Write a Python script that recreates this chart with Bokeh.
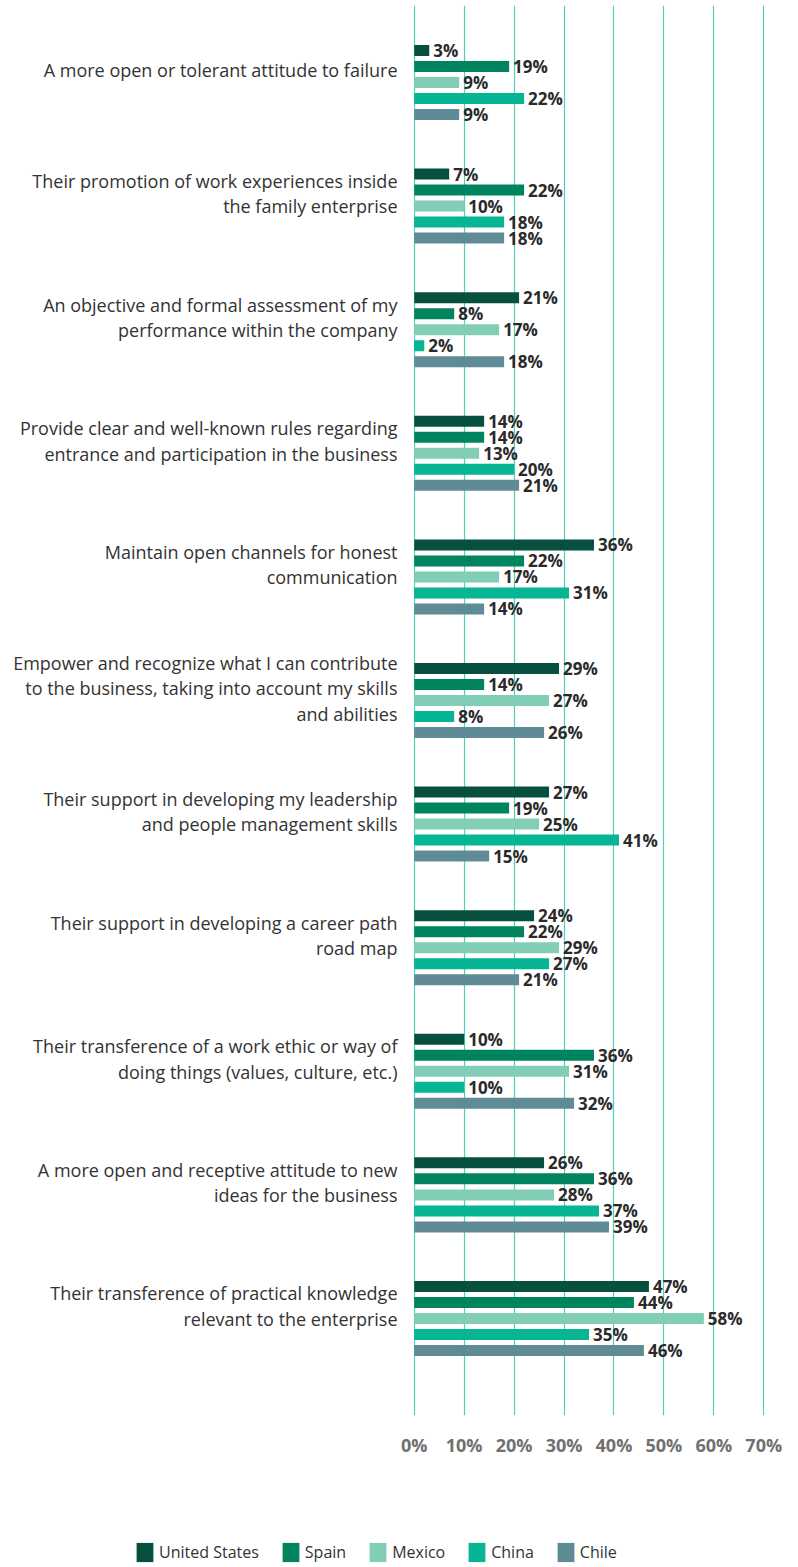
from bokeh.plotting import figure
from bokeh.models import (ColumnDataSource, Range1d, FixedTicker, PrintfTickFormatter,
                          Legend, LegendItem)
from bokeh.layouts import column
from bokeh.transform import dodge
from bokeh.core.properties import value
from bokeh.embed import file_html
from bokeh.resources import INLINE

categories = [
    "A more open or tolerant attitude to failure",
    "Their promotion of work experiences inside\nthe family enterprise",
    "An objective and formal assessment of my\nperformance within the company",
    "Provide clear and well-known rules regarding\nentrance and participation in the business",
    "Maintain open channels for honest\ncommunication",
    "Empower and recognize what I can contribute\nto the business, taking into account my skills\nand abilities",
    "Their support in developing my leadership\nand people management skills",
    "Their support in developing a career path\nroad map",
    "Their transference of a work ethic or way of\ndoing things (values, culture, etc.)",
    "A more open and receptive attitude to new\nideas for the business",
    "Their transference of practical knowledge\nrelevant to the enterprise",
]
series = ["United States", "Spain", "Mexico", "China", "Chile"]
united_states = [3, 7, 21, 14, 36, 29, 27, 24, 10, 26, 47]
spain = [19, 22, 8, 14, 22, 14, 19, 22, 36, 36, 44]
mexico = [9, 10, 17, 13, 17, 27, 25, 29, 31, 28, 58]
china = [22, 18, 2, 20, 31, 8, 41, 27, 10, 37, 35]
chile = [9, 18, 18, 21, 14, 26, 15, 21, 32, 39, 46]
x_ticks = [0, 10, 20, 30, 40, 50, 60, 70]

colors = ["#07503F", "#00845F", "#82CDB6", "#05B593", "#5E8B96"]
values_by_series = [united_states, spain, mexico, china, chile]

W = 782
H_MAIN = 1500
H_LEG = 64
p = figure(width=W, height=H_MAIN, output_backend="svg", toolbar_location=None,
           x_range=Range1d(-0.15, 70.15), y_range=Range1d(10.785, -0.623),
           min_border_left=413, min_border_right=18, min_border_top=5,
           min_border_bottom=H_MAIN - 1415)
p.outline_line_color = None
p.background_fill_color = "white"

# legend strip (own figure, so the legend can sit under the labels)
pl = figure(width=W, height=H_LEG, output_backend="svg", toolbar_location=None,
            x_range=Range1d(1000, 1001), y_range=Range1d(1000, 1001),
            min_border_left=0, min_border_right=0, min_border_top=0,
            min_border_bottom=0)
pl.frame_align = False
pl.axis.visible = False
pl.grid.grid_line_color = None
pl.outline_line_color = None

idx = list(range(len(categories)))
pitch = 0.1295
bar_h = 0.089
items = []
for k, (name, vals, col) in enumerate(zip(series, values_by_series, colors)):
    src = ColumnDataSource(dict(idx=idx, v=vals, lab=[f"{v}%" for v in vals]))
    off = (k - 2) * pitch
    p.hbar(y=dodge("idx", off), right="v", left=0, height=bar_h,
           fill_color=col, line_color=None, source=src)
    p.text(x="v", y=dodge("idx", off), text="lab", source=src,
           x_offset=4, text_baseline="middle", text_align="left",
           text_font=value("Open Sans"), text_font_style="bold",
           text_font_size="17px", text_color="#2a2a2a")
    # legend swatch renderer: same data, zero width and outside the strip's range
    rl = pl.hbar(y="idx", left="v", right="v", height=bar_h,
                 fill_color=col, line_color=None, source=src)
    items.append(LegendItem(label=name, renderers=[rl]))

# category labels sit slightly above each group's centre
label_pos = [i - 0.1 for i in idx]
p.yaxis.ticker = FixedTicker(ticks=label_pos)
p.yaxis.major_label_overrides = {y: c for y, c in zip(label_pos, categories)}
p.yaxis.axis_line_color = None
p.yaxis.major_tick_line_color = None
p.yaxis.minor_tick_line_color = None
p.yaxis.major_tick_out = 0
p.yaxis.major_tick_in = 0
p.yaxis.major_label_standoff = 16
p.yaxis.major_label_text_font = "Open Sans"
p.yaxis.major_label_text_font_size = "18px"
p.yaxis.major_label_text_color = "#333333"
p.yaxis.major_label_text_line_height = 1.06

p.xaxis.ticker = FixedTicker(ticks=x_ticks)
p.xaxis.formatter = PrintfTickFormatter(format="%d%%")
p.xaxis.axis_line_color = None
p.xaxis.major_tick_line_color = None
p.xaxis.minor_tick_line_color = None
p.xaxis.major_tick_out = 0
p.xaxis.major_tick_in = 0
p.xaxis.major_label_standoff = 17
p.xaxis.major_label_text_font = "Open Sans"
p.xaxis.major_label_text_font_style = "bold"
p.xaxis.major_label_text_font_size = "18px"
p.xaxis.major_label_text_color = "#707070"

p.ygrid.grid_line_color = None
p.xgrid.ticker = FixedTicker(ticks=x_ticks)
p.xgrid.grid_line_color = "#52CFB3"
p.xgrid.grid_line_width = 1.2

legend = Legend(items=items, orientation="horizontal", location=(134, 0),
                glyph_width=21, glyph_height=24, label_standoff=4, spacing=21,
                padding=0, margin=0, border_line_color=None,
                background_fill_alpha=0,
                label_text_font="Open Sans", label_text_font_size="16px",
                label_text_color="#333333")
pl.add_layout(legend)

layout = column(p, pl, spacing=0)
open("out.html", "w").write(file_html(layout, INLINE))
